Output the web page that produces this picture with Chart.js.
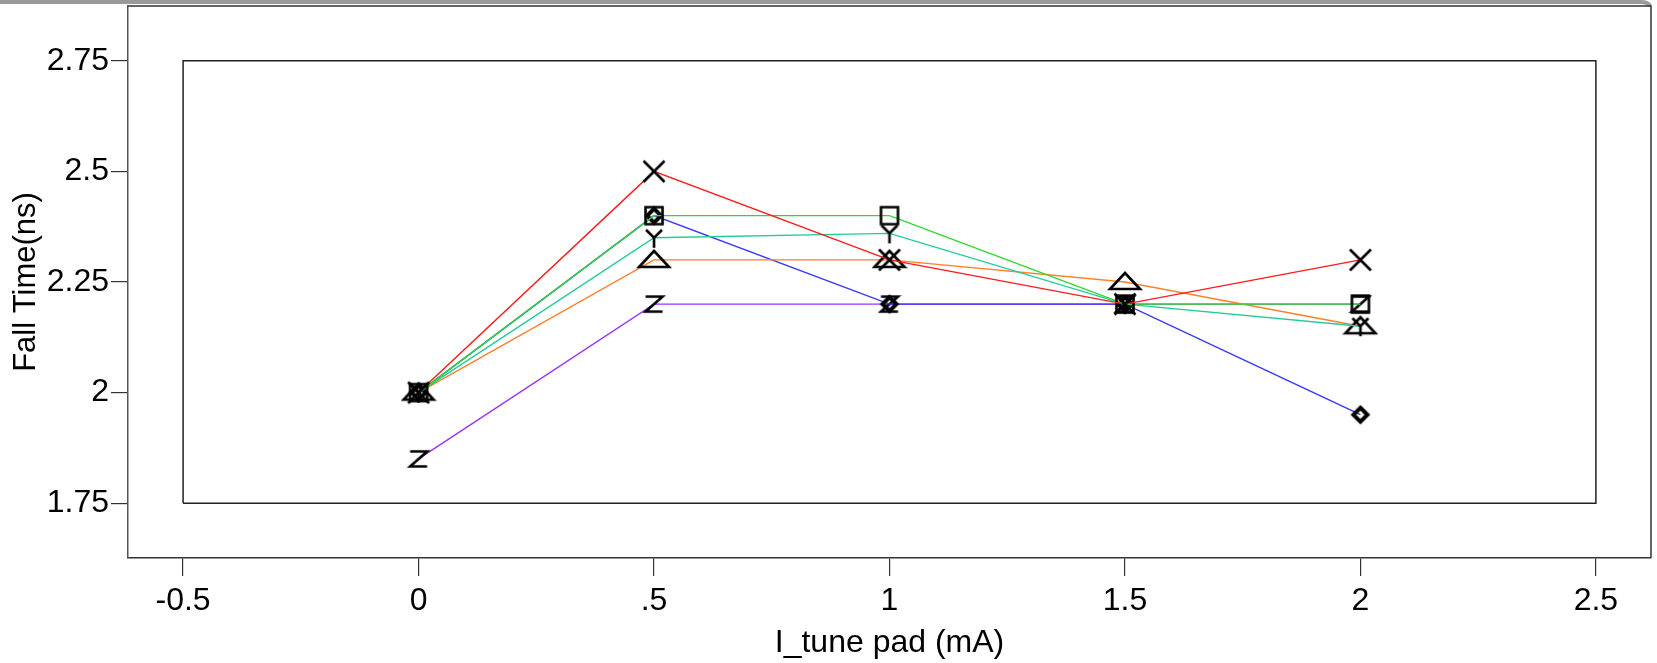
<!DOCTYPE html>
<html>
<head>
<meta charset="utf-8">
<script src="https://cdn.jsdelivr.net/npm/chart.js@4/dist/chart.umd.min.js"></script>
<style>
  body { margin: 0; background: #fff; }
  canvas { display: block; }
</style>
</head>
<body>
<canvas id="chartFallTime" width="1657" height="663"></canvas>
<script>
// data
const currents = [0, 0.5, 1, 1.5, 2];
const redValues = [2.0, 2.5, 2.3, 2.2, 2.3];
const greenValues = [2.0, 2.4, 2.4, 2.2, 2.2];
const tealValues = [2.0, 2.35, 2.36, 2.2, 2.15];
const orangeValues = [2.0, 2.3, 2.3, 2.25, 2.15];
const blueValues = [2.0, 2.4, 2.2, 2.2, 1.95];
const purpleValues = [1.85, 2.2, 2.2, 2.2, 2.2];

const xTickValues = [-0.5, 0, 0.5, 1, 1.5, 2, 2.5];
const xTickLabels = ['-0.5', '0', '.5', '1', '1.5', '2', '2.5'];
const yTickValues = [1.75, 2, 2.25, 2.5, 2.75];
const yTickLabels = ['1.75', '2', '2.25', '2.5', '2.75'];

// inner frame corners (x range -0.5..2.5, y range 1.75..2.75)
const boxX = [-0.5, -0.5, 2.5, 2.5, -0.5];
const boxY = [1.75, 2.75, 2.75, 1.75, 1.75];

const FONT = "'Liberation Sans', Arial, sans-serif";

function toPoints(xs, ys) {
    return xs.map((x, i) => ({ x: x, y: ys[i] }));
}

// small canvases used as point markers
function makeMarker(size, lw, draw) {
    const c = document.createElement('canvas');
    c.width = size;
    c.height = size;
    const g = c.getContext('2d');
    g.strokeStyle = '#000';
    g.lineWidth = lw;
    g.lineJoin = 'miter';
    const m = size / 2;
    g.beginPath();
    draw(g, m);
    g.stroke();
    return c;
}

const markerX = makeMarker(26, 2.6, (g, m) => {
    g.moveTo(m - 10.5, m - 10.5); g.lineTo(m + 10.5, m + 10.5);
    g.moveTo(m + 10.5, m - 10.5); g.lineTo(m - 10.5, m + 10.5);
});
const markerSquare = makeMarker(24, 2.6, (g, m) => {
    g.rect(m - 8.5, m - 8.5, 17, 17);
});
const markerY = makeMarker(26, 2.6, (g, m) => {
    g.moveTo(m - 8, m - 8); g.lineTo(m, m);
    g.lineTo(m + 8, m - 8);
    g.moveTo(m, m); g.lineTo(m, m + 10);
});
const markerTriangle = makeMarker(36, 2.6, (g, m) => {
    g.moveTo(m, m - 9);
    g.lineTo(m + 15, m + 7);
    g.lineTo(m - 15, m + 7);
    g.closePath();
});
const markerDiamond = makeMarker(22, 4, (g, m) => {
    g.moveTo(m, m - 7); g.lineTo(m + 7, m);
    g.lineTo(m, m + 7); g.lineTo(m - 7, m);
    g.closePath();
});
const markerZ = makeMarker(24, 2.6, (g, m) => {
    g.moveTo(m - 8.5, m - 7.5); g.lineTo(m + 8.5, m - 7.5);
    g.lineTo(m - 8.5, m + 7.5); g.lineTo(m + 8.5, m + 7.5);
});

function series(values, color, marker) {
    return {
        data: toPoints(currents, values),
        borderColor: color,
        borderWidth: 1.4,
        pointStyle: marker,
        pointRadius: 10,
        pointHoverRadius: 10,
        fill: false,
        tension: 0
    };
}

// outer frame + grey strip at the top of the picture
const framePlugin = {
    id: 'frame',
    beforeDraw(chart) {
        const ctx = chart.ctx;
        ctx.save();
        ctx.fillStyle = '#fff';
        ctx.fillRect(0, 0, chart.width, chart.height);
        ctx.strokeStyle = '#9a9a9a';
        ctx.lineWidth = 4;
        ctx.beginPath();
        ctx.moveTo(0, 2);
        ctx.lineTo(1641, 2);
        ctx.quadraticCurveTo(1648, 2, 1650, 6);
        ctx.stroke();
        ctx.restore();
    },
    afterDatasetsDraw(chart) {
        const a = chart.chartArea;
        const ctx = chart.ctx;
        ctx.save();
        ctx.strokeStyle = '#333';
        ctx.lineWidth = 1.5;
        ctx.beginPath();
        ctx.moveTo(a.left, a.top);
        ctx.lineTo(a.right, a.top);
        ctx.lineTo(a.right, a.bottom);
        ctx.stroke();
        ctx.restore();
    }
};

const ctx = document.getElementById('chartFallTime').getContext('2d');
new Chart(ctx, {
    type: 'scatter',
    data: {
        datasets: [
            series(redValues, '#ff1a1a', markerX),
            series(greenValues, '#2ed82e', markerSquare),
            series(tealValues, '#22cc99', markerY),
            series(orangeValues, '#ff7f2a', markerTriangle),
            series(blueValues, '#3535ff', markerDiamond),
            series(purpleValues, '#9933ff', markerZ),
            {
                data: toPoints(boxX, boxY),
                showLine: true,
                borderColor: '#222',
                borderWidth: 1.5,
                pointRadius: 0,
                pointHoverRadius: 0,
                fill: false
            }
        ]
    },
    options: {
        responsive: false,
        animation: false,
        showLine: true,
        layout: { autoPadding: false, padding: { top: 6, right: 6, left: 0, bottom: 0 } },
        plugins: {
            legend: { display: false },
            tooltip: { enabled: false }
        },
        scales: {
            x: {
                type: 'linear',
                min: -0.617,
                max: 2.617,
                afterFit: scale => {
                    scale.height = 105;
                    scale.paddingLeft = 0;
                    scale.paddingRight = 0;
                },
                afterBuildTicks: scale => {
                    scale.ticks = xTickValues.map(v => ({ value: v }));
                },
                ticks: {
                    autoSkip: false,
                    maxRotation: 0,
                    padding: 6,
                    color: '#000',
                    font: { family: FONT, size: 32 },
                    callback: v => {
                        const i = xTickValues.findIndex(t => Math.abs(t - v) < 1e-6);
                        return i >= 0 ? xTickLabels[i] : '';
                    }
                },
                grid: { drawOnChartArea: false, tickLength: 18, color: '#333', lineWidth: 1.2 },
                border: { display: true, color: '#333', width: 1.5 },
                title: {
                    display: true,
                    text: 'I_tune pad (mA)',
                    color: '#000',
                    font: { family: FONT, size: 32 },
                    padding: { top: 0, bottom: 1 }
                }
            },
            y: {
                type: 'linear',
                min: 1.626,
                max: 2.874,
                afterFit: scale => {
                    scale.width = 128;
                    scale.paddingTop = 0;
                    scale.paddingBottom = 0;
                },
                afterBuildTicks: scale => {
                    scale.ticks = yTickValues.map(v => ({ value: v }));
                },
                ticks: {
                    autoSkip: false,
                    padding: 2,
                    color: '#000',
                    font: { family: FONT, size: 32 },
                    callback: v => {
                        const i = yTickValues.findIndex(t => Math.abs(t - v) < 1e-6);
                        return i >= 0 ? yTickLabels[i] : '';
                    }
                },
                grid: { drawOnChartArea: false, tickLength: 17, color: '#333', lineWidth: 1.2 },
                border: { display: true, color: '#555', width: 1.5 },
                title: {
                    display: true,
                    text: 'Fall Time(ns)',
                    color: '#000',
                    font: { family: FONT, size: 31 },
                    padding: { top: 8, bottom: 0 }
                }
            }
        }
    },
    plugins: [framePlugin]
});
</script>
</body>
</html>
